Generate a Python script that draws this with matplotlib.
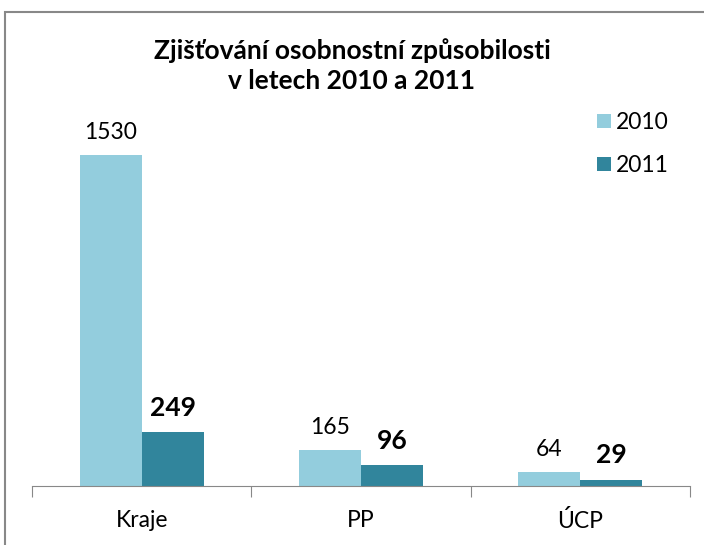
import matplotlib.pyplot as plt
from matplotlib.patches import Rectangle
import numpy as np

plt.rcParams['font.family'] = ['Lato', 'DejaVu Sans']

categories = ['Kraje', 'PP', 'ÚCP']
years = ['2010', '2011']
values_2010 = [1530, 165, 64]
values_2011 = [249, 96, 29]

c2010 = '#93CDDD'
c2011 = '#31859C'

fig = plt.figure(figsize=(7.04, 5.45), dpi=100)
ax = fig.add_axes([32/704, 59/545, 658/704, 389/545])

x = np.arange(len(categories))
w = 0.283
b1 = ax.bar(x - w/2, values_2010, w, color=c2010, label=years[0])
b2 = ax.bar(x + w/2, values_2011, w, color=c2011, label=years[1])

for rect, v in zip(b1, values_2010):
    ax.annotate(str(v), (rect.get_x() + rect.get_width()/2, v),
                xytext=(0, 9), textcoords='offset points',
                ha='center', va='bottom', fontsize=16.5)
for rect, v in zip(b2, values_2011):
    ax.annotate(str(v), (rect.get_x() + rect.get_width()/2, v),
                xytext=(0, 9), textcoords='offset points',
                ha='center', va='bottom', fontsize=19, fontweight='bold')

ax.set_xlim(-0.5, len(categories) - 0.5)
ax.set_ylim(0, 1800)
ax.set_yticks([])
for s in ['top', 'right', 'left']:
    ax.spines[s].set_visible(False)
ax.spines['bottom'].set_color('#888888')

# category ticks sit on the group boundaries, labels centred under the groups
ax.set_xticks(np.arange(len(categories) + 1) - 0.5)
ax.set_xticklabels([])
ax.set_xticks(x, minor=True)
ax.set_xticklabels(categories, minor=True, fontsize=16.5)
ax.tick_params(axis='x', which='major', length=8, color='#888888')
ax.tick_params(axis='x', which='minor', length=0, pad=17)

fig.text(0.5, (545 - 66)/545, 'Zjišťování osobnostní způsobilosti\nv letech 2010 a 2011',
         ha='center', va='center', fontsize=19, fontweight='bold',
         linespacing=1.3)

ax.legend(loc='upper left', bbox_to_anchor=(588/704, (545 - 103)/545),
          bbox_transform=fig.transFigure,
          frameon=False, fontsize=16.5, handlelength=0.6, handleheight=0.6,
          handletextpad=0.2, labelspacing=0.95, borderaxespad=0)

fig.patches.append(Rectangle((5/704, -0.1), 1.2, (545 - 12)/545 + 0.1,
                             transform=fig.transFigure, fill=False,
                             edgecolor='#888888', linewidth=1.5))

fig.savefig('out.png', dpi=100)
